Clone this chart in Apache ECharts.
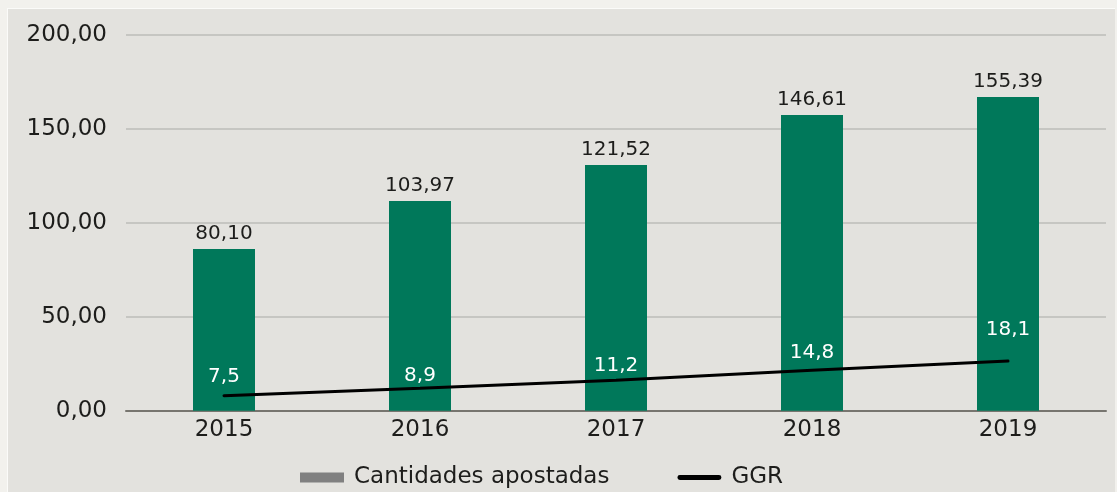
<!DOCTYPE html>
<html>
<head>
<meta charset="utf-8">
<script src="https://cdn.jsdelivr.net/npm/echarts@6/dist/echarts.min.js"></script>
<style>
  html, body { margin: 0; padding: 0; background: #f2f1ed; }
  #panel {
    position: absolute; left: 7px; top: 8px; width: 1107px; height: 484px;
    background: #e3e2de; border-left: 1px solid #fbfbf9; border-top: 1px solid #fbfbf9;
  }
  #chart { position: absolute; left: 0; top: 0; width: 1117px; height: 492px; }
</style>
</head>
<body>
<div id="panel"></div>
<div id="chart"></div>
<script>
// datos
const anios = ["2015", "2016", "2017", "2018", "2019"];
// etiquetas de las barras (millones)
const apuestas = [80.10, 103.97, 121.52, 146.61, 155.39];
// altura a la que se dibujan las barras en el original
const alturaBarras = [86.0, 111.5, 130.7, 157.3, 166.9];
// GGR: etiquetas y posicion de la linea en el eje
const ggr = [7.5, 8.9, 11.2, 14.8, 18.1];
const lineaGgr = [8.0, 12.0, 16.2, 21.5, 26.4];
const ticksY = [0, 50, 100, 150, 200];

// distancia de la etiqueta GGR sobre la linea (px)
const distGgr = [9, 2, 4, 7, 21];

const fuente = "DejaVu Sans";
const coma = (v, d) => v.toFixed(d).replace(".", ",");

var chart = echarts.init(document.getElementById("chart"));

var option = {
  backgroundColor: "transparent",
  animation: false,
  textStyle: { fontFamily: fuente },
  grid: { left: 126, right: 11, top: 34.7, bottom: 81.3 },
  legend: {
    left: 295,
    top: 461,
    itemWidth: 44,
    itemHeight: 10,
    itemGap: 68,
    textStyle: { fontSize: 23, color: "#1d1d1b", fontFamily: fuente, padding: [0, 0, 0, 5] },
    data: [
      { name: "Cantidades apostadas", icon: "rect", itemStyle: { color: "#808080" } },
      {
        name: "GGR",
        icon: "path://M2.5,0 L42.5,0 A2.5,2.5 0 0 1 42.5,5 L2.5,5 A2.5,2.5 0 0 1 2.5,0 Z",
        itemStyle: { color: "#000" }
      }
    ]
  },
  xAxis: {
    type: "category",
    data: anios,
    axisTick: { show: false },
    axisLine: { lineStyle: { color: "#77756f", width: 2 } },
    axisLabel: { fontSize: 23, color: "#1d1d1b", margin: 8, fontFamily: fuente }
  },
  yAxis: {
    type: "value",
    min: ticksY[0],
    max: ticksY[ticksY.length - 1],
    interval: 50,
    axisLine: { show: false },
    axisTick: { show: false },
    splitLine: { lineStyle: { color: "#bdbcb8", width: 1.5 } },
    axisLabel: {
      fontSize: 23, color: "#1d1d1b", margin: 19, fontFamily: fuente,
      formatter: v => coma(v, 2)
    }
  },
  series: [
    {
      name: "Cantidades apostadas",
      type: "bar",
      barWidth: 62,
      itemStyle: { color: "#00785a" },
      data: alturaBarras,
      label: {
        show: true,
        position: "top",
        distance: 5,
        fontSize: 20,
        color: "#1d1d1b",
        fontFamily: fuente,
        formatter: p => coma(apuestas[p.dataIndex], 2)
      },
      z: 2
    },
    {
      name: "GGR",
      type: "line",
      symbol: "none",
      lineStyle: { color: "#000", width: 3, cap: "round" },
      itemStyle: { color: "#000" },
      data: lineaGgr,
      z: 3
    },
    {
      // solo etiquetas del GGR
      name: "GGR etiquetas",
      type: "scatter",
      symbolSize: 0,
      silent: true,
      itemStyle: { opacity: 1 },
      data: lineaGgr.map((v, i) => ({
        value: v,
        label: {
          show: true,
          position: "top",
          distance: distGgr[i],
          fontSize: 20,
          color: "#ffffff",
          fontFamily: fuente,
          formatter: () => coma(ggr[i], 1)
        }
      })),
      z: 4
    }
  ]
};

chart.setOption(option);
window.addEventListener("resize", () => chart.resize());
</script>
</body>
</html>
